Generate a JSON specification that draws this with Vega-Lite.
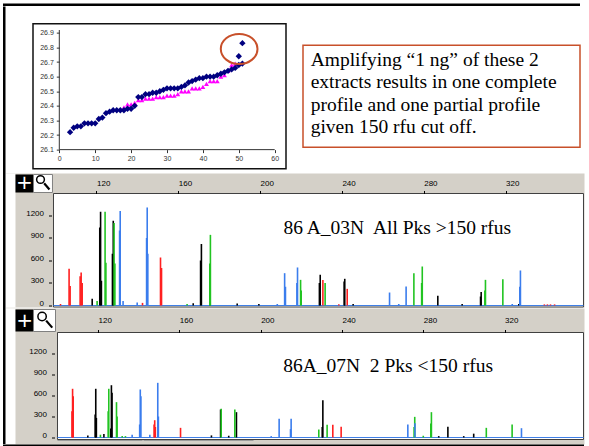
{
  "$schema": "https://vega.github.io/schema/vega-lite/v6.json",
  "padding": {"left": 3, "top": 3.5, "right": 5, "bottom": 0},
  "background": "white",
  "config": {"view": {"stroke": null}, "font": "Liberation Sans"},
  "datasets": {
    "navy": [
      {"x": 3, "y": 26.22}, {"x": 4, "y": 26.25}, {"x": 5, "y": 26.26}, {"x": 6, "y": 26.26}, {"x": 7, "y": 26.28},
      {"x": 8, "y": 26.28}, {"x": 9, "y": 26.28}, {"x": 10, "y": 26.28}, {"x": 11, "y": 26.31}, {"x": 12, "y": 26.32},
      {"x": 13, "y": 26.35}, {"x": 14, "y": 26.36}, {"x": 15, "y": 26.37}, {"x": 16, "y": 26.37}, {"x": 17, "y": 26.37},
      {"x": 18, "y": 26.37}, {"x": 19, "y": 26.38}, {"x": 20, "y": 26.38}, {"x": 21, "y": 26.40}, {"x": 22, "y": 26.46},
      {"x": 23, "y": 26.46}, {"x": 24, "y": 26.48}, {"x": 25, "y": 26.48}, {"x": 26, "y": 26.49}, {"x": 27, "y": 26.49},
      {"x": 28, "y": 26.50}, {"x": 29, "y": 26.51}, {"x": 30, "y": 26.52}, {"x": 31, "y": 26.52}, {"x": 32, "y": 26.52},
      {"x": 33, "y": 26.52}, {"x": 34, "y": 26.53}, {"x": 35, "y": 26.54}, {"x": 36, "y": 26.56}, {"x": 37, "y": 26.57},
      {"x": 38, "y": 26.58}, {"x": 39, "y": 26.59}, {"x": 40, "y": 26.59}, {"x": 41, "y": 26.60}, {"x": 42, "y": 26.60},
      {"x": 43, "y": 26.60}, {"x": 44, "y": 26.61}, {"x": 45, "y": 26.62}, {"x": 46, "y": 26.63}, {"x": 47, "y": 26.64},
      {"x": 48, "y": 26.65}, {"x": 49, "y": 26.66}, {"x": 50, "y": 26.68}, {"x": 51, "y": 26.69}, {"x": 50, "y": 26.74},
      {"x": 51, "y": 26.83}
    ],
    "magenta": [
      {"x": 18, "y": 26.39}, {"x": 19, "y": 26.41}, {"x": 20, "y": 26.41}, {"x": 21, "y": 26.42}, {"x": 22, "y": 26.44},
      {"x": 23, "y": 26.44}, {"x": 24, "y": 26.45}, {"x": 25, "y": 26.45}, {"x": 26, "y": 26.45}, {"x": 27, "y": 26.46},
      {"x": 28, "y": 26.46}, {"x": 29, "y": 26.46}, {"x": 30, "y": 26.47}, {"x": 31, "y": 26.47}, {"x": 32, "y": 26.47},
      {"x": 33, "y": 26.48}, {"x": 34, "y": 26.50}, {"x": 35, "y": 26.50}, {"x": 36, "y": 26.50}, {"x": 37, "y": 26.52},
      {"x": 38, "y": 26.52}, {"x": 39, "y": 26.52}, {"x": 40, "y": 26.53}, {"x": 41, "y": 26.55}, {"x": 42, "y": 26.57},
      {"x": 43, "y": 26.57}, {"x": 44, "y": 26.57}, {"x": 45, "y": 26.60}, {"x": 46, "y": 26.61}, {"x": 47, "y": 26.64},
      {"x": 48, "y": 26.68}, {"x": 49, "y": 26.69}
    ],
    "p1": [
      {"bp": 102.4, "rfu": 20, "dye": "red"}, {"bp": 106.6, "rfu": 490, "dye": "red"}, {"bp": 107.1, "rfu": 260, "dye": "red"},
      {"bp": 112.0, "rfu": 390, "dye": "red"}, {"bp": 112.5, "rfu": 440, "dye": "red"}, {"bp": 113.0, "rfu": 300, "dye": "red"},
      {"bp": 142.5, "rfu": 35, "dye": "red"}, {"bp": 151.3, "rfu": 640, "dye": "red"}, {"bp": 151.8, "rfu": 500, "dye": "red"},
      {"bp": 230.7, "rfu": 340, "dye": "red"}, {"bp": 242.6, "rfu": 222, "dye": "red"}, {"bp": 238.5, "rfu": 15, "dye": "red"},
      {"bp": 339.0, "rfu": 15, "dye": "red"}, {"bp": 340.5, "rfu": 15, "dye": "red"}, {"bp": 342.0, "rfu": 15, "dye": "red"}, {"bp": 344.0, "rfu": 15, "dye": "red"},
      {"bp": 117.9, "rfu": 90, "dye": "black"}, {"bp": 121.6, "rfu": 1040, "dye": "black"}, {"bp": 122.0, "rfu": 1250, "dye": "black"},
      {"bp": 122.4, "rfu": 330, "dye": "black"}, {"bp": 127.8, "rfu": 690, "dye": "black"}, {"bp": 128.2, "rfu": 1130, "dye": "black"},
      {"bp": 167.3, "rfu": 30, "dye": "black"}, {"bp": 170.9, "rfu": 600, "dye": "black"}, {"bp": 171.3, "rfu": 820, "dye": "black"},
      {"bp": 175.5, "rfu": 550, "dye": "black"}, {"bp": 188.8, "rfu": 25, "dye": "black"}, {"bp": 199.4, "rfu": 20, "dye": "black"},
      {"bp": 229.0, "rfu": 300, "dye": "black"}, {"bp": 229.4, "rfu": 410, "dye": "black"}, {"bp": 241.1, "rfu": 320, "dye": "black"},
      {"bp": 241.4, "rfu": 356, "dye": "black"}, {"bp": 245.5, "rfu": 20, "dye": "black"}, {"bp": 286.9, "rfu": 130, "dye": "black"},
      {"bp": 298.8, "rfu": 20, "dye": "black"}, {"bp": 307.8, "rfu": 120, "dye": "black"}, {"bp": 308.1, "rfu": 180, "dye": "black"},
      {"bp": 326.5, "rfu": 20, "dye": "black"},
      {"bp": 120.3, "rfu": 60, "dye": "green"}, {"bp": 124.2, "rfu": 1250, "dye": "green"}, {"bp": 124.6, "rfu": 570, "dye": "green"},
      {"bp": 128.6, "rfu": 1100, "dye": "green"}, {"bp": 129.0, "rfu": 560, "dye": "green"}, {"bp": 164.3, "rfu": 20, "dye": "green"},
      {"bp": 175.4, "rfu": 560, "dye": "green"}, {"bp": 175.7, "rfu": 942, "dye": "green"}, {"bp": 219.8, "rfu": 342, "dye": "green"},
      {"bp": 220.1, "rfu": 200, "dye": "green"}, {"bp": 231.8, "rfu": 300, "dye": "green"}, {"bp": 275.2, "rfu": 431, "dye": "green"},
      {"bp": 279.0, "rfu": 300, "dye": "green"}, {"bp": 279.3, "rfu": 520, "dye": "green"}, {"bp": 309.9, "rfu": 200, "dye": "green"},
      {"bp": 310.2, "rfu": 342, "dye": "green"}, {"bp": 318.7, "rfu": 351, "dye": "green"},
      {"bp": 131.3, "rfu": 1000, "dye": "blue"}, {"bp": 131.6, "rfu": 1260, "dye": "blue"}, {"bp": 133.0, "rfu": 60, "dye": "blue"},
      {"bp": 139.9, "rfu": 40, "dye": "blue"}, {"bp": 144.5, "rfu": 900, "dye": "blue"}, {"bp": 144.8, "rfu": 1307, "dye": "blue"},
      {"bp": 145.1, "rfu": 690, "dye": "blue"}, {"bp": 208.4, "rfu": 20, "dye": "blue"}, {"bp": 212.0, "rfu": 431, "dye": "blue"},
      {"bp": 212.4, "rfu": 250, "dye": "blue"}, {"bp": 218.0, "rfu": 300, "dye": "blue"}, {"bp": 218.3, "rfu": 507, "dye": "blue"},
      {"bp": 263.3, "rfu": 173, "dye": "blue"}, {"bp": 267.8, "rfu": 20, "dye": "blue"}, {"bp": 271.4, "rfu": 253, "dye": "blue"},
      {"bp": 323.3, "rfu": 20, "dye": "blue"}, {"bp": 327.0, "rfu": 250, "dye": "blue"}, {"bp": 327.3, "rfu": 467, "dye": "blue"}
    ],
    "p2": [
      {"bp": 107.2, "rfu": 376, "dye": "red"}, {"bp": 107.5, "rfu": 696, "dye": "red"}, {"bp": 107.8, "rfu": 590, "dye": "red"},
      {"bp": 147.6, "rfu": 186, "dye": "red"}, {"bp": 147.9, "rfu": 247, "dye": "red"}, {"bp": 148.2, "rfu": 150, "dye": "red"},
      {"bp": 160.6, "rfu": 138, "dye": "red"}, {"bp": 235.5, "rfu": 181, "dye": "red"}, {"bp": 239.6, "rfu": 152, "dye": "red"},
      {"bp": 115.0, "rfu": 30, "dye": "black"}, {"bp": 118.6, "rfu": 328, "dye": "black"}, {"bp": 118.9, "rfu": 696, "dye": "black"},
      {"bp": 119.2, "rfu": 280, "dye": "black"}, {"bp": 122.9, "rfu": 50, "dye": "black"}, {"bp": 126.3, "rfu": 130, "dye": "black"},
      {"bp": 126.6, "rfu": 747, "dye": "black"}, {"bp": 126.9, "rfu": 640, "dye": "black"}, {"bp": 175.8, "rfu": 30, "dye": "black"},
      {"bp": 180.3, "rfu": 400, "dye": "black"}, {"bp": 184.3, "rfu": 25, "dye": "black"}, {"bp": 188.1, "rfu": 362, "dye": "black"},
      {"bp": 230.3, "rfu": 150, "dye": "black"}, {"bp": 230.6, "rfu": 533, "dye": "black"}, {"bp": 287.6, "rfu": 20, "dye": "black"},
      {"bp": 292.1, "rfu": 152, "dye": "black"}, {"bp": 299.9, "rfu": 20, "dye": "black"}, {"bp": 304.8, "rfu": 55, "dye": "black"},
      {"bp": 121.2, "rfu": 40, "dye": "green"}, {"bp": 125.0, "rfu": 376, "dye": "green"}, {"bp": 125.3, "rfu": 696, "dye": "green"},
      {"bp": 129.1, "rfu": 505, "dye": "green"}, {"bp": 129.4, "rfu": 300, "dye": "green"}, {"bp": 131.9, "rfu": 20, "dye": "green"},
      {"bp": 133.5, "rfu": 20, "dye": "green"}, {"bp": 180.6, "rfu": 410, "dye": "green"}, {"bp": 187.3, "rfu": 400, "dye": "green"},
      {"bp": 228.6, "rfu": 114, "dye": "green"}, {"bp": 232.7, "rfu": 181, "dye": "green"}, {"bp": 275.5, "rfu": 150, "dye": "green"},
      {"bp": 275.8, "rfu": 295, "dye": "green"}, {"bp": 280.0, "rfu": 25, "dye": "green"}, {"bp": 283.7, "rfu": 200, "dye": "green"},
      {"bp": 284.0, "rfu": 362, "dye": "green"}, {"bp": 311.0, "rfu": 138, "dye": "green"}, {"bp": 323.7, "rfu": 186, "dye": "green"},
      {"bp": 136.8, "rfu": 40, "dye": "blue"}, {"bp": 140.5, "rfu": 186, "dye": "blue"}, {"bp": 140.8, "rfu": 686, "dye": "blue"},
      {"bp": 141.1, "rfu": 590, "dye": "blue"}, {"bp": 145.5, "rfu": 40, "dye": "blue"}, {"bp": 149.4, "rfu": 781, "dye": "blue"},
      {"bp": 149.7, "rfu": 300, "dye": "blue"}, {"bp": 205.2, "rfu": 20, "dye": "blue"}, {"bp": 209.1, "rfu": 267, "dye": "blue"},
      {"bp": 214.7, "rfu": 120, "dye": "blue"}, {"bp": 215.0, "rfu": 267, "dye": "blue"}, {"bp": 272.4, "rfu": 186, "dye": "blue"},
      {"bp": 275.9, "rfu": 205, "dye": "blue"}, {"bp": 328.3, "rfu": 133, "dye": "blue"}
    ],
    "box": [
      {"line": 1, "text": "Amplifying “1 ng” of these 2"},
      {"line": 2, "text": "extracts results in one complete"},
      {"line": 3, "text": "profile and one partial profile"},
      {"line": 4, "text": "given 150 rfu cut off."}
    ]
  },
  "spacing": 0,
  "vconcat": [
    {"width": 577, "height": 2.5, "view": {"fill": "#000000", "stroke": null}, "data": {"values": []}, "mark": "point"},
    {
      "spacing": 0,
      "hconcat": [
        {"width": 2.5, "height": 437.5, "view": {"fill": "#000000", "stroke": null}, "data": {"values": []}, "mark": "point"},
        {
          "spacing": 3,
          "vconcat": [
            {"width": 1, "height": 13, "data": {"values": []}, "mark": "point"},
            {
              "spacing": 15,
              "center": true,
              "hconcat": [
                {"width": 10.5, "height": 1, "data": {"values": []}, "mark": "point"},
                {
                  "width": 253,
                  "height": 145,
                  "view": {"stroke": "#111111", "strokeWidth": 1.5, "fill": "white"},
                  "layer": [
                    {
                      "data": {"name": "magenta"},
                      "mark": {"type": "point", "shape": "triangle-up", "filled": true, "color": "#ff00ff", "size": 24, "opacity": 1},
                      "encoding": {
                        "x": {"field": "x", "type": "quantitative", "scale": {"domain": [-7.33, 63.15], "nice": false, "zero": false},
                          "axis": {"orient": "bottom", "offset": -19, "zindex": 1, "values": [0, 10, 20, 30, 40, 50, 60], "tickCount": 20, "domain": false, "grid": false, "tickSize": 3, "tickColor": "#333333", "labelFontSize": 7, "labelColor": "#333333", "labelPadding": 2, "labelFlush": false, "labelOverlap": false, "title": null}},
                        "y": {"field": "y", "type": "quantitative", "scale": {"domain": [25.9698, 26.9638], "nice": false, "zero": false},
                          "axis": {"orient": "left", "offset": -26.3, "zindex": 1, "values": [26.1, 26.2, 26.3, 26.4, 26.5, 26.6, 26.7, 26.8, 26.9], "tickCount": 20, "format": ".1f", "domain": false, "grid": false, "tickSize": 3, "tickColor": "#333333", "labelFontSize": 7, "labelColor": "#333333", "labelPadding": 3, "labelFlush": false, "labelOverlap": false, "title": null}}
                      }
                    },
                    {
                      "data": {"name": "navy"},
                      "mark": {"type": "point", "shape": "diamond", "filled": true, "color": "#000080", "size": 40, "opacity": 1},
                      "encoding": {
                        "x": {"field": "x", "type": "quantitative", "scale": {"domain": [-7.33, 63.15], "nice": false, "zero": false}},
                        "y": {"field": "y", "type": "quantitative", "scale": {"domain": [25.9698, 26.9638], "nice": false, "zero": false}}
                      }
                    },
                    {
                      "data": {"values": [{}]},
                      "mark": {"type": "rule", "color": "#333333", "strokeWidth": 1},
                      "encoding": {
                        "x": {"datum": 0, "type": "quantitative", "scale": {"domain": [-7.33, 63.15], "nice": false, "zero": false}},
                        "y": {"datum": 26.1, "type": "quantitative", "scale": {"domain": [25.9698, 26.9638], "nice": false, "zero": false}},
                        "y2": {"datum": 26.92}
                      }
                    },
                    {
                      "data": {"values": [{}]},
                      "mark": {"type": "rule", "color": "#333333", "strokeWidth": 1},
                      "encoding": {
                        "x": {"datum": 0, "type": "quantitative", "scale": {"domain": [-7.33, 63.15], "nice": false, "zero": false}},
                        "x2": {"datum": 60},
                        "y": {"datum": 26.1, "type": "quantitative", "scale": {"domain": [25.9698, 26.9638], "nice": false, "zero": false}}
                      }
                    },
                    {
                      "data": {"values": [{}]},
                      "mark": {"type": "point", "shape": "M-1,0A1,0.82,0,1,1,1,0A1,0.82,0,1,1,-1,0Z", "filled": false, "stroke": "#c8502a", "strokeWidth": 2, "size": 1347, "opacity": 1},
                      "encoding": {
                        "x": {"datum": 50.1, "type": "quantitative", "scale": {"domain": [-7.33, 63.15], "nice": false, "zero": false}},
                        "y": {"datum": 26.79, "type": "quantitative", "scale": {"domain": [25.9698, 26.9638], "nice": false, "zero": false}}
                      }
                    }
                  ]
                },
                {
                  "width": 277,
                  "height": 102,
                  "view": {"stroke": "#c8502a", "strokeWidth": 1.5, "fill": "white"},
                  "data": {"name": "box"},
                  "mark": {"type": "text", "align": "left", "baseline": "alphabetic", "font": "Liberation Serif", "fontSize": 19.5, "color": "#000000"},
                  "encoding": {
                    "x": {"datum": 0, "type": "quantitative", "scale": {"domain": [-0.0286, 1], "nice": false, "zero": false}, "axis": null},
                    "y": {"field": "line", "type": "quantitative", "scale": {"domain": [0.0889, 4.6222], "reverse": true, "nice": false, "zero": false}, "axis": null},
                    "text": {"field": "text"}
                  }
                }
              ]
            },
            {
              "spacing": 1,
              "vconcat": [
                {
                  "width": 578.5,
                  "height": 134,
                  "view": {"fill": "#d4d0c8", "stroke": null},
                  "layer": [
                    {
                      "data": {"values": [{}]},
                      "mark": {"type": "rect", "fill": "white", "stroke": "#404040", "strokeWidth": 1},
                      "encoding": {
                        "x": {"datum": 98.97, "type": "quantitative", "scale": {"domain": [75.75, 358.63], "nice": false, "zero": false},
                          "axis": {"orient": "top", "offset": -20, "zindex": 1, "values": [120, 160, 200, 240, 280, 320], "tickCount": 30, "domain": false, "grid": false, "tickSize": 3, "tickColor": "#000000", "labelAlign": "left", "labelFontSize": 8, "labelColor": "#000000", "labelPadding": 3, "labelFlush": false, "labelOverlap": false, "title": null}},
                        "x2": {"datum": 358.14},
                        "y": {"datum": 1493.3, "type": "quantitative", "scale": {"domain": [-26.67, 1760], "nice": false, "zero": false},
                          "axis": {"orient": "left", "offset": -45.5, "zindex": 1, "values": [0, 300, 600, 900, 1200], "tickCount": 30, "format": "d", "domain": false, "grid": false, "tickSize": 3, "tickColor": "#000000", "labelFontSize": 8, "labelColor": "#000000", "labelPadding": 5, "labelBaseline": "alphabetic", "labelFlush": false, "labelOverlap": false, "title": null}},
                        "y2": {"datum": -20}
                      }
                    },
                    {
                      "data": {"values": [{}]},
                      "mark": {"type": "rect", "fill": "white"},
                      "encoding": {
                        "x": {"datum": 75.75, "type": "quantitative", "scale": {"domain": [75.75, 358.63], "nice": false, "zero": false}},
                        "x2": {"datum": 80.39},
                        "y": {"datum": -26.67, "type": "quantitative", "scale": {"domain": [-26.67, 1760], "nice": false, "zero": false}},
                        "y2": {"datum": 1760}
                      }
                    },
                    {
                      "data": {"values": [{}]},
                      "mark": {"type": "rule", "color": "#3f7fe6", "strokeWidth": 1.2},
                      "encoding": {
                        "x": {"datum": 98.97, "type": "quantitative", "scale": {"domain": [75.75, 358.63], "nice": false, "zero": false}},
                        "x2": {"datum": 358.14},
                        "y": {"datum": 0, "type": "quantitative", "scale": {"domain": [-26.67, 1760], "nice": false, "zero": false}}
                      }
                    },
                    {
                      "data": {"name": "p1"},
                      "mark": {"type": "rule", "strokeWidth": 1.6},
                      "encoding": {
                        "x": {"field": "bp", "type": "quantitative", "scale": {"domain": [75.75, 358.63], "nice": false, "zero": false}},
                        "y": {"field": "rfu", "type": "quantitative", "scale": {"domain": [-26.67, 1760], "nice": false, "zero": false}},
                        "y2": {"datum": 0},
                        "color": {"field": "dye", "type": "nominal", "scale": {"domain": ["red", "black", "green", "blue"], "range": ["#ff2020", "#000000", "#22c422", "#3b7ded"]}, "legend": null}
                      }
                    },
                    {
                      "data": {"values": [{"label": "86 A_03N\u00a0 All Pks >150 rfus"}]},
                      "mark": {"type": "text", "align": "left", "baseline": "alphabetic", "font": "Liberation Serif", "fontSize": 19.5, "color": "#000000"},
                      "encoding": {
                        "x": {"datum": 211.44, "type": "quantitative", "scale": {"domain": [75.75, 358.63], "nice": false, "zero": false}},
                        "y": {"datum": 946.7, "type": "quantitative", "scale": {"domain": [-26.67, 1760], "nice": false, "zero": false}},
                        "text": {"field": "label"}
                      }
                    },
                    {
                      "data": {"values": [{}]},
                      "mark": {"type": "rect", "fill": "#000000"},
                      "encoding": {
                        "x": {"datum": 80.39, "type": "quantitative", "scale": {"domain": [75.75, 358.63], "nice": false, "zero": false}},
                        "x2": {"datum": 89.19},
                        "y": {"datum": 1746.7, "type": "quantitative", "scale": {"domain": [-26.67, 1760], "nice": false, "zero": false}},
                        "y2": {"datum": 1506.7}
                      }
                    },
                    {
                      "data": {"values": [{"label": "+"}]},
                      "mark": {"type": "text", "align": "center", "baseline": "middle", "font": "DejaVu Sans", "fontSize": 20, "color": "#ffffff"},
                      "encoding": {
                        "x": {"datum": 84.79, "type": "quantitative", "scale": {"domain": [75.75, 358.63], "nice": false, "zero": false}},
                        "y": {"datum": 1626.7, "type": "quantitative", "scale": {"domain": [-26.67, 1760], "nice": false, "zero": false}},
                        "text": {"field": "label"}
                      }
                    },
                    {
                      "data": {"values": [{}]},
                      "mark": {"type": "rect", "fill": "#ffffff", "stroke": "#808080", "strokeWidth": 1},
                      "encoding": {
                        "x": {"datum": 89.19, "type": "quantitative", "scale": {"domain": [75.75, 358.63], "nice": false, "zero": false}},
                        "x2": {"datum": 98.48},
                        "y": {"datum": 1746.7, "type": "quantitative", "scale": {"domain": [-26.67, 1760], "nice": false, "zero": false}},
                        "y2": {"datum": 1506.7}
                      }
                    },
                    {
                      "data": {"values": [{}]},
                      "mark": {"type": "point", "shape": "circle", "filled": false, "stroke": "#000000", "strokeWidth": 1.5, "size": 60, "opacity": 1},
                      "encoding": {
                        "x": {"datum": 92.62, "type": "quantitative", "scale": {"domain": [75.75, 358.63], "nice": false, "zero": false}},
                        "y": {"datum": 1680, "type": "quantitative", "scale": {"domain": [-26.67, 1760], "nice": false, "zero": false}}
                      }
                    },
                    {
                      "data": {"values": [{}]},
                      "mark": {"type": "rule", "color": "#000000", "strokeWidth": 2.2},
                      "encoding": {
                        "x": {"datum": 94.4, "type": "quantitative", "scale": {"domain": [75.75, 358.63], "nice": false, "zero": false}},
                        "x2": {"datum": 97.0},
                        "y": {"datum": 1630, "type": "quantitative", "scale": {"domain": [-26.67, 1760], "nice": false, "zero": false}},
                        "y2": {"datum": 1546.7}
                      }
                    }
                  ]
                },
                {
                  "width": 578.5,
                  "height": 136,
                  "view": {"fill": "#d4d0c8", "stroke": null},
                  "layer": [
                    {
                      "data": {"values": [{}]},
                      "mark": {"type": "rect", "fill": "white", "stroke": "#404040", "strokeWidth": 1},
                      "encoding": {
                        "x": {"datum": 100.08, "type": "quantitative", "scale": {"domain": [74.75, 359.3], "nice": false, "zero": false},
                          "axis": {"orient": "top", "offset": -24, "zindex": 1, "values": [120, 160, 200, 240, 280, 320], "tickCount": 30, "domain": false, "grid": false, "tickSize": 3, "tickColor": "#000000", "labelAlign": "left", "labelFontSize": 8, "labelColor": "#000000", "labelPadding": 5, "labelFlush": false, "labelOverlap": false, "title": null}},
                        "x2": {"datum": 358.81},
                        "y": {"datum": 1500, "type": "quantitative", "scale": {"domain": [-100, 1842.9], "nice": false, "zero": false},
                          "axis": {"orient": "left", "offset": -48.5, "zindex": 1, "values": [0, 300, 600, 900, 1200], "tickCount": 30, "format": "d", "domain": false, "grid": false, "tickSize": 3, "tickColor": "#000000", "labelFontSize": 8, "labelColor": "#000000", "labelPadding": 5, "labelBaseline": "alphabetic", "labelFlush": false, "labelOverlap": false, "title": null}},
                        "y2": {"datum": -28.57}
                      }
                    },
                    {
                      "data": {"values": [{}]},
                      "mark": {"type": "rect", "fill": "white"},
                      "encoding": {
                        "x": {"datum": 74.75, "type": "quantitative", "scale": {"domain": [74.75, 359.3], "nice": false, "zero": false}},
                        "x2": {"datum": 79.42},
                        "y": {"datum": -100, "type": "quantitative", "scale": {"domain": [-100, 1842.9], "nice": false, "zero": false}},
                        "y2": {"datum": 1842.9}
                      }
                    },
                    {
                      "data": {"values": [{}]},
                      "mark": {"type": "rule", "color": "#3f7fe6", "strokeWidth": 1.2},
                      "encoding": {
                        "x": {"datum": 100.08, "type": "quantitative", "scale": {"domain": [74.75, 359.3], "nice": false, "zero": false}},
                        "x2": {"datum": 358.81},
                        "y": {"datum": 0, "type": "quantitative", "scale": {"domain": [-100, 1842.9], "nice": false, "zero": false}}
                      }
                    },
                    {
                      "data": {"values": [{"a": 100.08, "b": 141.9}, {"a": 142.4, "b": 196.5}]},
                      "mark": {"type": "rule", "color": "#9c9c9c", "strokeWidth": 1},
                      "encoding": {
                        "x": {"field": "a", "type": "quantitative", "scale": {"domain": [74.75, 359.3], "nice": false, "zero": false}},
                        "x2": {"field": "b"},
                        "y": {"datum": -42.9, "type": "quantitative", "scale": {"domain": [-100, 1842.9], "nice": false, "zero": false}}
                      }
                    },
                    {
                      "data": {"name": "p2"},
                      "mark": {"type": "rule", "strokeWidth": 1.6},
                      "encoding": {
                        "x": {"field": "bp", "type": "quantitative", "scale": {"domain": [74.75, 359.3], "nice": false, "zero": false}},
                        "y": {"field": "rfu", "type": "quantitative", "scale": {"domain": [-100, 1842.9], "nice": false, "zero": false}},
                        "y2": {"datum": 0},
                        "color": {"field": "dye", "type": "nominal", "scale": {"domain": ["red", "black", "green", "blue"], "range": ["#ff2020", "#000000", "#22c422", "#3b7ded"]}, "legend": null}
                      }
                    },
                    {
                      "data": {"values": [{"label": "86A_07N\u00a0 2 Pks <150 rfus"}]},
                      "mark": {"type": "text", "align": "left", "baseline": "alphabetic", "font": "Liberation Serif", "fontSize": 19.5, "color": "#000000"},
                      "encoding": {
                        "x": {"datum": 211.1, "type": "quantitative", "scale": {"domain": [74.75, 359.3], "nice": false, "zero": false}},
                        "y": {"datum": 932.9, "type": "quantitative", "scale": {"domain": [-100, 1842.9], "nice": false, "zero": false}},
                        "text": {"field": "label"}
                      }
                    },
                    {
                      "data": {"values": [{}]},
                      "mark": {"type": "rect", "fill": "#000000"},
                      "encoding": {
                        "x": {"datum": 79.42, "type": "quantitative", "scale": {"domain": [74.75, 359.3], "nice": false, "zero": false}},
                        "x2": {"datum": 88.27},
                        "y": {"datum": 1828.6, "type": "quantitative", "scale": {"domain": [-100, 1842.9], "nice": false, "zero": false}},
                        "y2": {"datum": 1514.3}
                      }
                    },
                    {
                      "data": {"values": [{"label": "+"}]},
                      "mark": {"type": "text", "align": "center", "baseline": "middle", "font": "DejaVu Sans", "fontSize": 20, "color": "#ffffff"},
                      "encoding": {
                        "x": {"datum": 83.85, "type": "quantitative", "scale": {"domain": [74.75, 359.3], "nice": false, "zero": false}},
                        "y": {"datum": 1671.4, "type": "quantitative", "scale": {"domain": [-100, 1842.9], "nice": false, "zero": false}},
                        "text": {"field": "label"}
                      }
                    },
                    {
                      "data": {"values": [{}]},
                      "mark": {"type": "rect", "fill": "#ffffff", "stroke": "#808080", "strokeWidth": 1},
                      "encoding": {
                        "x": {"datum": 88.27, "type": "quantitative", "scale": {"domain": [74.75, 359.3], "nice": false, "zero": false}},
                        "x2": {"datum": 99.1},
                        "y": {"datum": 1828.6, "type": "quantitative", "scale": {"domain": [-100, 1842.9], "nice": false, "zero": false}},
                        "y2": {"datum": 1514.3}
                      }
                    },
                    {
                      "data": {"values": [{}]},
                      "mark": {"type": "point", "shape": "circle", "filled": false, "stroke": "#000000", "strokeWidth": 1.5, "size": 70, "opacity": 1},
                      "encoding": {
                        "x": {"datum": 92.5, "type": "quantitative", "scale": {"domain": [74.75, 359.3], "nice": false, "zero": false}},
                        "y": {"datum": 1728, "type": "quantitative", "scale": {"domain": [-100, 1842.9], "nice": false, "zero": false}}
                      }
                    },
                    {
                      "data": {"values": [{}]},
                      "mark": {"type": "rule", "color": "#000000", "strokeWidth": 2.2},
                      "encoding": {
                        "x": {"datum": 94.5, "type": "quantitative", "scale": {"domain": [74.75, 359.3], "nice": false, "zero": false}},
                        "x2": {"datum": 97.5},
                        "y": {"datum": 1670, "type": "quantitative", "scale": {"domain": [-100, 1842.9], "nice": false, "zero": false}},
                        "y2": {"datum": 1570}
                      }
                    }
                  ]
                }
              ]
            }
          ]
        }
      ]
    },
    {"width": 581, "height": 2.5, "view": {"fill": "#000000", "stroke": null}, "data": {"values": []}, "mark": "point"}
  ]
}
